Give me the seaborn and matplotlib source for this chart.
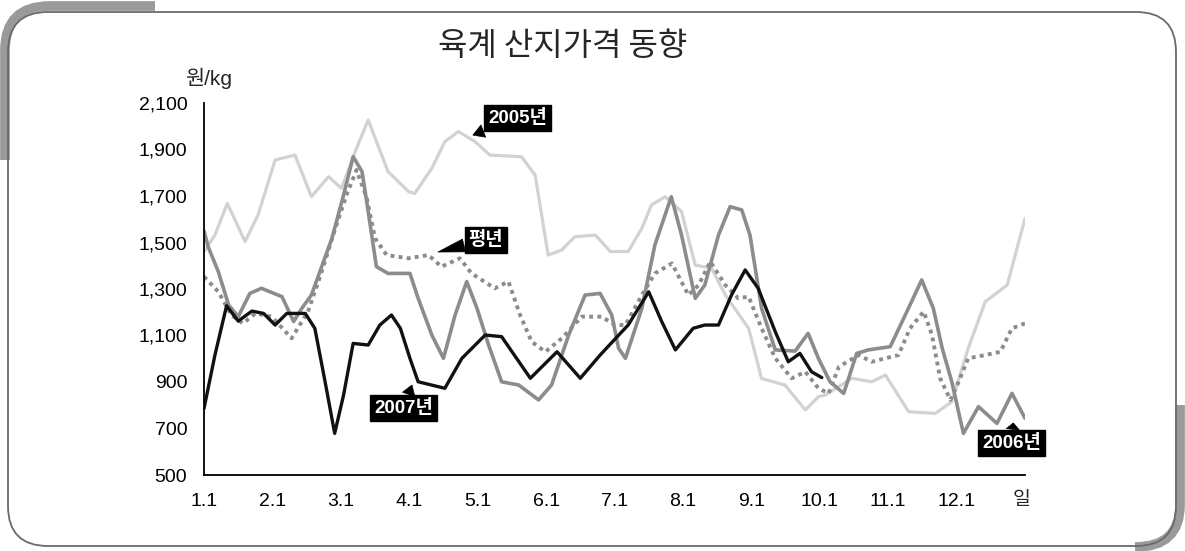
import matplotlib
matplotlib.use("Agg")
import matplotlib.pyplot as plt
import seaborn as sns
from matplotlib.patches import FancyBboxPatch, PathPatch
from matplotlib.path import Path
from matplotlib.transforms import IdentityTransform
from matplotlib.ticker import FuncFormatter

# x = months since Jan 1 (0 = 1.1, 11 = 12.1)
m2005 = [0, 0.16, 0.34, 0.60, 0.79, 1.04, 1.33, 1.57, 1.82, 2.01, 2.21, 2.40, 2.69, 2.99, 3.08,
         3.33, 3.52, 3.72, 3.96, 4.18, 4.64, 4.84, 5.03, 5.23, 5.42, 5.72, 5.94, 6.20, 6.40, 6.54,
         6.74, 6.98, 7.18, 7.42, 7.62, 7.96, 8.15, 8.49, 8.79, 8.98, 9.08, 9.47, 9.76, 9.96, 10.30,
         10.69, 10.93, 11.17, 11.42, 11.74, 12.0]
v2005 = [1461, 1532, 1668, 1504, 1618, 1855, 1876, 1697, 1783, 1733, 1891, 2027, 1805, 1719, 1711,
         1819, 1934, 1977, 1934, 1876, 1869, 1790, 1446, 1468, 1525, 1532, 1461, 1461, 1561, 1661,
         1697, 1633, 1403, 1389, 1274, 1131, 915, 887, 780, 837, 844, 916, 901, 930, 772,
         765, 815, 1045, 1246, 1317, 1604]

m2006 = [0, 0.06, 0.21, 0.36, 0.50, 0.67, 0.84, 1.14, 1.31, 1.43, 1.57, 1.87, 2.04, 2.18, 2.31,
         2.40, 2.52, 2.69, 3.01, 3.13, 3.33, 3.50, 3.67, 3.84, 3.99, 4.16, 4.35, 4.60, 4.89, 5.08,
         5.33, 5.57, 5.79, 5.96, 6.06, 6.16, 6.40, 6.59, 6.83, 6.98, 7.18, 7.32, 7.52, 7.69, 7.86,
         7.98, 8.15, 8.35, 8.64, 8.83, 8.98, 9.15, 9.35, 9.54, 9.71, 10.03, 10.25, 10.49, 10.66,
         10.79, 10.93, 11.10, 11.32, 11.59, 11.81, 12.0]
v2006 = [1550, 1482, 1374, 1231, 1181, 1281, 1303, 1267, 1160, 1217, 1274, 1518, 1704, 1869, 1805,
         1633, 1396, 1367, 1367, 1260, 1102, 1002, 1188, 1332, 1217, 1059, 901, 887, 823, 887,
         1102, 1274, 1281, 1188, 1045, 1002, 1217, 1489, 1697, 1532, 1260, 1317, 1532, 1654, 1640,
         1532, 1217, 1038, 1033, 1109, 1002, 901, 851, 1023, 1038, 1052, 1188, 1339, 1217,
         1045, 901, 679, 794, 722, 851, 744]

m_avg = [0, 0.21, 0.40, 0.57, 0.75, 0.99, 1.28, 1.52, 1.72, 1.92, 2.09, 2.23, 2.38, 2.50, 2.67,
         2.99, 3.28, 3.47, 3.74, 3.91, 4.25, 4.45, 4.62, 4.79, 4.99, 5.23, 5.52, 5.81, 6.01, 6.16,
         6.40, 6.59, 6.84, 7.08, 7.23, 7.40, 7.62, 7.81, 7.96, 8.15, 8.35, 8.59, 8.79, 8.98, 9.13,
         9.28, 9.57, 9.76, 10.15, 10.32, 10.52, 10.64, 10.76, 10.91, 11.03, 11.17, 11.42, 11.64,
         11.81, 12.0]
v_avg = [1353, 1288, 1188, 1152, 1195, 1181, 1088, 1203, 1374, 1561, 1711, 1812, 1690, 1518, 1446,
         1432, 1446, 1396, 1432, 1367, 1303, 1332, 1188, 1073, 1030, 1088, 1181, 1181, 1145, 1145,
         1274, 1367, 1410, 1274, 1317, 1418, 1317, 1260, 1267, 1131, 1002, 916, 944, 873, 851,
         966, 1016, 987, 1016, 1131, 1203, 1102, 916, 823, 901, 1002, 1016, 1030, 1131, 1152]

m2007 = [0, 0.16, 0.33, 0.50, 0.70, 0.87, 1.04, 1.21, 1.48, 1.62, 1.77, 1.91, 2.04, 2.18, 2.40,
         2.57, 2.74, 2.87, 3.01, 3.13, 3.52, 3.77, 4.11, 4.35, 4.77, 5.16, 5.50, 5.79, 6.04, 6.20,
         6.50, 6.69, 6.89, 7.15, 7.32, 7.52, 7.71, 7.91, 8.10, 8.35, 8.54, 8.71, 8.88, 9.03]
v2007 = [786, 1016, 1228, 1162, 1205, 1195, 1145, 1195, 1195, 1131, 901, 679, 844, 1066, 1059,
         1145, 1188, 1131, 1002, 901, 873, 1002, 1102, 1095, 916, 1030, 916, 1016, 1095, 1145,
         1288, 1160, 1038, 1131, 1145, 1145, 1274, 1382, 1303, 1116, 987, 1023, 944, 919]

month_labels = ["1.1", "2.1", "3.1", "4.1", "5.1", "6.1", "7.1", "8.1", "9.1", "10.1", "11.1", "12.1"]
y_ticks = [500, 700, 900, 1100, 1300, 1500, 1700, 1900, 2100]

sns.set_style("white")
plt.rcParams['font.family'] = ['Liberation Sans', 'Noto Sans CJK KR']

fig = plt.figure(figsize=(11.85, 5.51), dpi=100)
ax = fig.add_axes([204/1185, 1-475/551, (1025-204)/1185, (475-103)/551])

sns.lineplot(x=m2005, y=v2005, ax=ax, color='#d2d2d2', linewidth=2.3, estimator=None,
             solid_joinstyle='round')
sns.lineplot(x=m2006, y=v2006, ax=ax, color='#8c8c8c', linewidth=2.6, estimator=None,
             solid_joinstyle='round')
sns.lineplot(x=m_avg, y=v_avg, ax=ax, color='#8c8c8c', linewidth=2.8, estimator=None,
             linestyle=(0, (1, 1.1)))
sns.lineplot(x=m2007, y=v2007, ax=ax, color='#111111', linewidth=2.4, estimator=None,
             solid_joinstyle='round')

ax.set_xlim(0, 12)
ax.set_ylim(500, 2100)
ax.set_yticks(y_ticks)
ax.yaxis.set_major_formatter(FuncFormatter(lambda v, p: f"{int(v):,}"))
ax.set_xticks(range(12))
ax.set_xticklabels(month_labels)
ax.tick_params(axis='both', direction='in', length=4, width=1, colors='black',
               labelsize=14, pad=12)
ax.tick_params(axis='x', pad=13)
for s in ['top', 'right']:
    ax.spines[s].set_visible(False)
for s in ['left', 'bottom']:
    ax.spines[s].set_color('black')
    ax.spines[s].set_linewidth(1.3)
ax.set_xlabel('')
ax.set_ylabel('')

fig.text(563/1185, 1-46/551, "육계 산지가격 동향", ha='center', va='center', fontsize=23,
         family=['Noto Sans CJK KR'])
fig.text(209/1185, 1-78/551, "원/kg", ha='center', va='center', fontsize=15)
fig.text(1022/1185, 1-500/551, "일", ha='center', va='center', fontsize=14)

# callout labels
callouts = [("2005년", (3.93, 1962), (4.58, 2035)),
            ("평년", (3.42, 1459), (4.12, 1511)),
            ("2007년", (3.04, 887), (2.92, 788)),
            ("2006년", (11.83, 724), (11.80, 638))]
for txt, tip, pos in callouts:
    ax.annotate(txt, xy=tip, xytext=pos, ha='center', va='center', color='white',
                fontsize=13.5, fontweight='bold', annotation_clip=False,
                bbox=dict(boxstyle='square,pad=0.22', fc='black', ec='black'),
                arrowprops=dict(arrowstyle='wedge,tail_width=0.7,shrink_factor=0.5',
                                fc='black', ec='black', lw=0.5, shrinkA=0, shrinkB=0))

# rounded frame with gray shadow bands
H = 551
tl = Path([(5, H-160), (5, H-50), (5, H-6), (50, H-6), (155, H-6)],
          [Path.MOVETO, Path.LINETO, Path.CURVE3, Path.CURVE3, Path.LINETO])
fig.add_artist(PathPatch(tl, fc='none', ec='#9a9a9a', lw=7, capstyle='butt',
                         transform=IdentityTransform()))
br = Path([(1180, H-405), (1180, H-505), (1180, H-547), (1135, H-547)],
          [Path.MOVETO, Path.LINETO, Path.CURVE3, Path.CURVE3])
fig.add_artist(PathPatch(br, fc='none', ec='#9a9a9a', lw=7, capstyle='butt',
                         transform=IdentityTransform()))
frame = FancyBboxPatch((8, 5), 1168, 534, boxstyle='round,pad=0,rounding_size=40',
                       fc='none', ec='#6a6a6a', lw=1.3, transform=IdentityTransform())
fig.add_artist(frame)

fig.savefig("out.png", dpi=100)
